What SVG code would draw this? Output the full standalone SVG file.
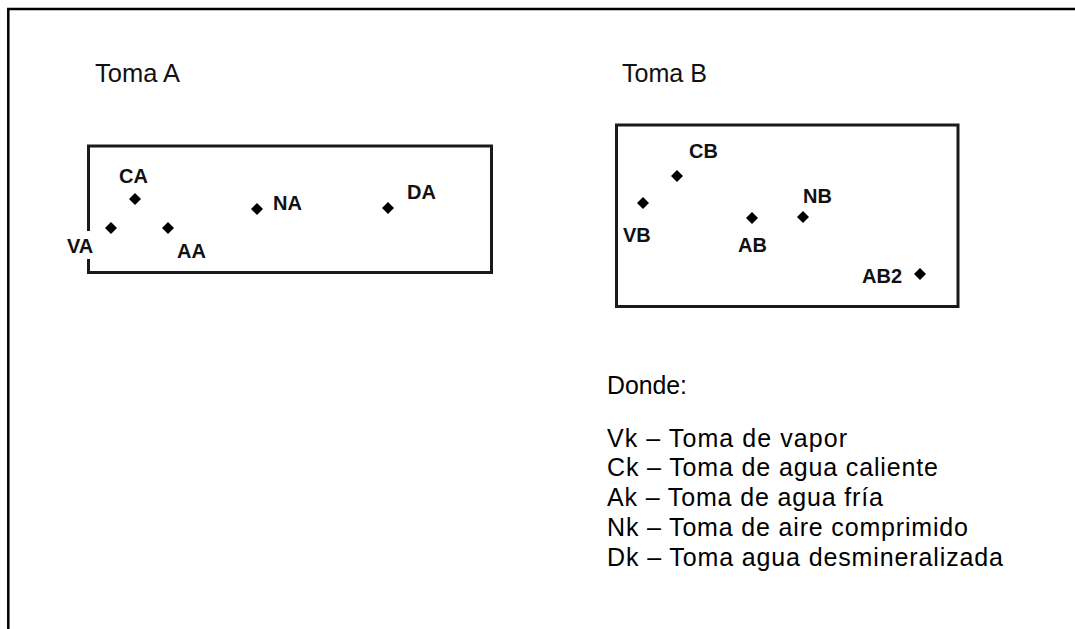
<svg xmlns="http://www.w3.org/2000/svg" width="1075" height="629" viewBox="0 0 1075 629">
  <style>
    .frame { fill: none; stroke: #000; stroke-width: 2.5; }
    .panel { fill: none; stroke: #1a1a1a; stroke-width: 3; }
    .title { font-family: "Liberation Sans", Arial, sans-serif; font-size: 25px; fill: #111; }
    .tag { font-family: "Liberation Sans", Arial, sans-serif; font-size: 20px; font-weight: bold; fill: #111; }
    .legend { font-family: "Liberation Sans", Arial, sans-serif; font-size: 25px; fill: #000; }
    .dot { fill: #000; }
  </style>
  <defs>
    <path id="pt" d="M0,-6 L6,0 L0,6 L-6,0 Z"/>
  </defs>

  <rect width="1075" height="629" fill="#fff"/>

  <!-- page frame: top and left rule -->
  <path class="frame" d="M8.3,629 V9 H1075"/>

  <!-- Toma A -->
  <g id="toma-a">
    <text class="title" x="95" y="82" textLength="85" lengthAdjust="spacingAndGlyphs">Toma A</text>
    <path class="panel" d="M88.5,231 V146 H491.5 V272.5 H88.5 V259"/>
  </g>
  <g id="CA"><use href="#pt" class="dot" x="135" y="199"/><text class="tag" x="119" y="183">CA</text></g>
  <g id="VA"><use href="#pt" class="dot" x="111" y="228"/><text class="tag" x="67" y="253">VA</text></g>
  <g id="AA"><use href="#pt" class="dot" x="168" y="228"/><text class="tag" x="177" y="258">AA</text></g>
  <g id="NA"><use href="#pt" class="dot" x="257" y="209"/><text class="tag" x="273" y="210">NA</text></g>
  <g id="DA"><use href="#pt" class="dot" x="388" y="208"/><text class="tag" x="407" y="199">DA</text></g>

  <!-- Toma B -->
  <g id="toma-b">
    <text class="title" x="622" y="82" textLength="85" lengthAdjust="spacingAndGlyphs">Toma B</text>
    <rect class="panel" x="616.5" y="125" width="341.5" height="181.5"/>
  </g>
  <g id="CB"><use href="#pt" class="dot" x="677" y="176"/><text class="tag" x="689" y="158">CB</text></g>
  <g id="VB"><use href="#pt" class="dot" x="643" y="203"/><text class="tag" x="623" y="242">VB</text></g>
  <g id="AB"><use href="#pt" class="dot" x="752" y="218"/><text class="tag" x="738" y="252">AB</text></g>
  <g id="NB"><use href="#pt" class="dot" x="803" y="217"/><text class="tag" x="803" y="203">NB</text></g>
  <g id="AB2"><use href="#pt" class="dot" x="920" y="274"/><text class="tag" x="862" y="283">AB2</text></g>

  <!-- legend -->
  <g id="legend">
    <text class="legend" x="607" y="394" textLength="80" lengthAdjust="spacingAndGlyphs">Donde:</text>
    <text class="legend" x="607" y="447" textLength="240" lengthAdjust="spacing">Vk – Toma de vapor</text>
    <text class="legend" x="607" y="476" textLength="331" lengthAdjust="spacing">Ck – Toma de agua caliente</text>
    <text class="legend" x="607" y="506" textLength="276" lengthAdjust="spacing">Ak – Toma de agua fría</text>
    <text class="legend" x="607" y="536" textLength="361" lengthAdjust="spacing">Nk – Toma de aire comprimido</text>
    <text class="legend" x="607" y="566" textLength="396" lengthAdjust="spacing">Dk – Toma agua desmineralizada</text>
  </g>
</svg>
